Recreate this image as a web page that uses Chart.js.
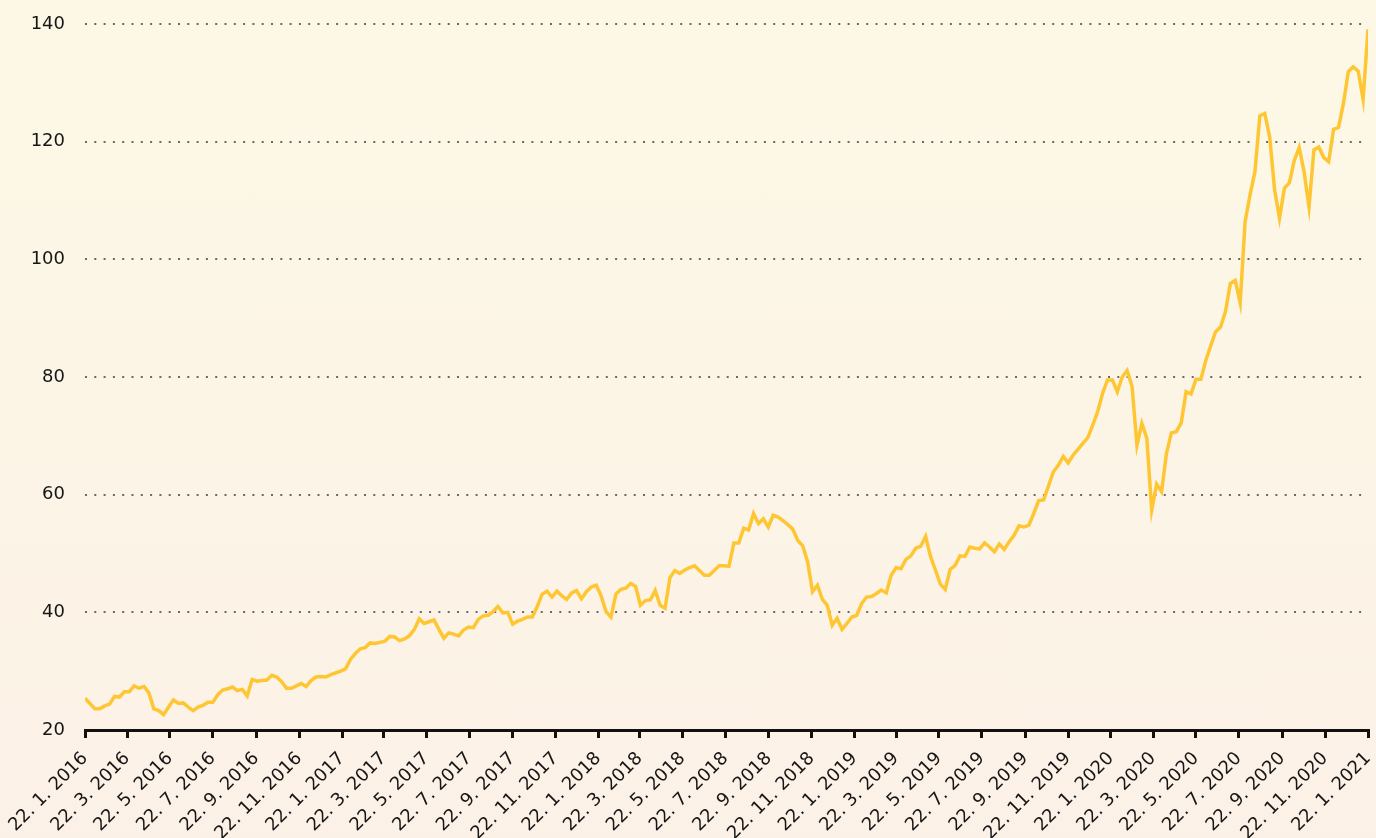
<!DOCTYPE html>
<html>
<head>
<meta charset="utf-8">
<script src="https://cdn.jsdelivr.net/npm/chart.js@4.4.0/dist/chart.umd.min.js"></script>
<style>
  html, body { margin: 0; padding: 0; }
  body {
    width: 1376px; height: 838px; overflow: hidden;
    background: linear-gradient(to bottom, #fdf8e6 0%, #fcf5e6 50%, #fcf1e7 100%);
  }
  #wrap { position: relative; width: 1376px; height: 838px; }
</style>
</head>
<body>
<div id="wrap"><canvas id="myChart"></canvas></div>
<script>
// weekly closes, 22.1.2016 .. 22.1.2021
var startDate = Date.UTC(2016, 0, 22);

var weeklyValues = [
    25.4, 24.5, 23.6, 23.6, 24.1, 24.4, 25.7, 25.6, 26.5, 26.5,
    27.5, 27.1, 27.4, 26.3, 23.6, 23.3, 22.6, 23.9, 25.1, 24.5,
    24.6, 23.9, 23.3, 23.9, 24.2, 24.7, 24.7, 26.0, 26.8, 27.0,
    27.3, 26.7, 26.9, 25.8, 28.6, 28.3, 28.4, 28.5, 29.3, 29.0,
    28.2, 27.1, 27.1, 27.5, 27.9, 27.4, 28.4, 29.0, 29.1, 29.0,
    29.4, 29.7, 30.0, 30.4, 32.0, 33.0, 33.8, 34.0, 34.8, 34.7,
    34.9, 35.1, 35.9, 35.8, 35.2, 35.5, 36.0, 37.1, 38.9, 38.1,
    38.4, 38.7, 37.1, 35.6, 36.5, 36.3, 36.0, 37.0, 37.5, 37.4,
    38.8, 39.4, 39.5, 40.1, 41.0, 39.9, 40.0, 38.0, 38.5, 38.8,
    39.2, 39.2, 41.0, 43.1, 43.6, 42.6, 43.6, 42.8, 42.2, 43.3,
    43.7, 42.3, 43.5, 44.3, 44.6, 42.8, 40.1, 39.2, 43.1, 43.9,
    44.1, 44.9, 44.4, 41.2, 42.0, 42.1, 43.7, 41.2, 40.7, 45.9,
    47.1, 46.6, 47.2, 47.6, 47.9, 47.1, 46.3, 46.3, 47.1, 47.9,
    47.9, 47.8, 51.8, 51.8, 54.3, 54.0, 56.8, 55.1, 55.9, 54.5,
    56.5, 56.2, 55.6, 54.9, 54.1, 52.2, 51.3, 48.6, 43.5, 44.6,
    42.2, 41.2, 37.8, 39.0, 37.1, 38.1, 39.2, 39.5, 41.5, 42.6,
    42.7, 43.2, 43.8, 43.3, 46.3, 47.6, 47.4, 49.0, 49.6, 50.9,
    51.2, 52.9, 49.5, 47.2, 44.8, 43.9, 47.3, 48.0, 49.6, 49.5,
    51.1, 50.9, 50.8, 51.8, 51.1, 50.3, 51.6, 50.7, 52.0, 53.1,
    54.7, 54.5, 54.8, 56.8, 59.0, 59.1, 61.5, 63.9, 65.0, 66.5,
    65.4, 66.7, 67.7, 68.7, 69.7, 71.8, 74.1, 77.2, 79.5, 79.5,
    77.5, 80.0, 81.1, 78.4, 68.4, 72.1, 69.6, 57.4, 61.8, 60.5,
    67.0, 70.5, 70.7, 72.2, 77.5, 77.1, 79.6, 79.6, 82.8, 85.3,
    87.7, 88.5, 91.1, 95.9, 96.4, 92.6, 106.4, 110.9, 114.9, 124.4,
    124.8, 120.8, 111.8, 107.0, 112.1, 113.0, 116.8, 119.0, 114.9, 108.9,
    118.6, 119.1, 117.3, 116.6, 122.1, 122.4, 126.5, 131.9, 132.7, 132.0,
    127.2, 139.1
];

// x tick labels, every two months
var tickLabels = [
    '22. 1. 2016', '22. 3. 2016', '22. 5. 2016', '22. 7. 2016', '22. 9. 2016', '22. 11. 2016',
    '22. 1. 2017', '22. 3. 2017', '22. 5. 2017', '22. 7. 2017', '22. 9. 2017', '22. 11. 2017',
    '22. 1. 2018', '22. 3. 2018', '22. 5. 2018', '22. 7. 2018', '22. 9. 2018', '22. 11. 2018',
    '22. 1. 2019', '22. 3. 2019', '22. 5. 2019', '22. 7. 2019', '22. 9. 2019', '22. 11. 2019',
    '22. 1. 2020', '22. 3. 2020', '22. 5. 2020', '22. 7. 2020', '22. 9. 2020', '22. 11. 2020',
    '22. 1. 2021'
];

var yTicks = [20, 40, 60, 80, 100, 120, 140];

var DAY = 24 * 3600 * 1000;

function labelToDay(lbl) {
    var p = lbl.split('.').map(function (s) { return parseInt(s, 10); });
    return Math.round((Date.UTC(p[2], p[1] - 1, p[0]) - startDate) / DAY);
}

var tickDays = tickLabels.map(labelToDay);

var points = weeklyValues.map(function (v, i) {
    return { x: i * 7, y: v };
});

var ctx = document.getElementById('myChart').getContext('2d');

Chart.defaults.font.family = "'DejaVu Sans', sans-serif";
Chart.defaults.color = '#161616';

var myChart = new Chart(ctx, {
    type: 'line',
    data: {
        datasets: [{
            data: points,
            borderColor: '#ffc633',
            borderWidth: 3.5,
            pointRadius: 0,
            tension: 0,
            fill: false
        }]
    },
    options: {
        responsive: true,
        maintainAspectRatio: false,
        animation: false,
        layout: {
            padding: { top: 24, right: 8, left: 0, bottom: 0 }
        },
        plugins: {
            legend: { display: false },
            tooltip: { enabled: false }
        },
        scales: {
            x: {
                type: 'linear',
                min: 0,
                max: tickDays[tickDays.length - 1],
                afterBuildTicks: function (scale) {
                    scale.ticks = tickDays.map(function (d) { return { value: d }; });
                },
                afterFit: function (scale) {
                    scale.height = 108;
                    scale.paddingLeft = 0;
                    scale.paddingRight = 0;
                },
                border: { display: true, color: '#111', width: 3 },
                grid: {
                    drawOnChartArea: false,
                    drawTicks: true,
                    tickLength: 8,
                    color: '#111',
                    lineWidth: 3
                },
                ticks: {
                    autoSkip: false,
                    maxRotation: 45,
                    minRotation: 45,
                    padding: 10,
                    font: { size: 18 },
                    callback: function (value, index) {
                        return tickLabels[index];
                    }
                }
            },
            y: {
                min: 20,
                max: 140,
                afterBuildTicks: function (scale) {
                    scale.ticks = yTicks.map(function (v) { return { value: v }; });
                },
                afterFit: function (scale) {
                    scale.width = 85;
                    scale.paddingTop = 0;
                    scale.paddingBottom = 0;
                },
                border: { display: false, dash: [2, 7.3] },
                grid: {
                    drawTicks: false,
                    color: 'rgba(80, 80, 80, 0.85)',
                    lineWidth: 2
                },
                ticks: {
                    padding: 20,
                    font: { size: 18 }
                }
            }
        }
    }
});
</script>
</body>
</html>
